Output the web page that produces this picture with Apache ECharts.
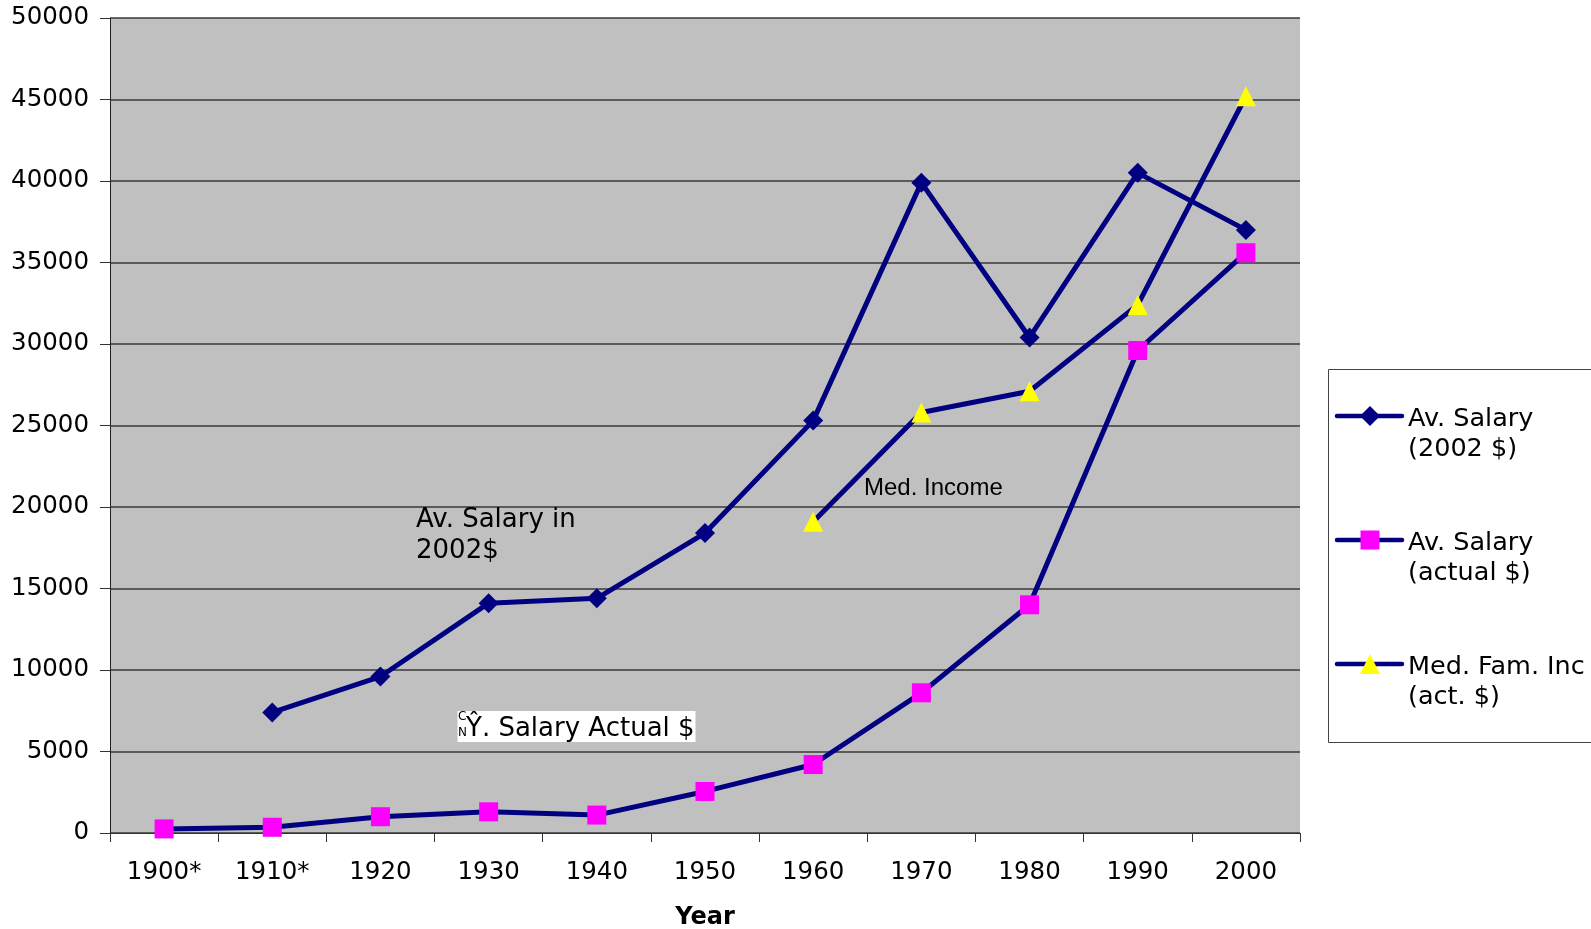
<!DOCTYPE html>
<html><head><meta charset="utf-8">
<script src="https://cdn.jsdelivr.net/npm/echarts@6/dist/echarts.min.js"></script>
<style>html,body{margin:0;padding:0;background:#fff}#c{width:1591px;height:929px}</style>
</head><body><div id="c"></div>
<script>
const categories = ['1900*','1910*','1920','1930','1940','1950','1960','1970','1980','1990','2000'];
const avSalary2002 = [null,7400,9600,14100,14400,18400,25300,39900,30400,40500,37000];
const avSalaryActual = [250,350,1000,1300,1100,2550,4200,8600,14000,29600,35600];
const medFamInc = [null,null,null,null,null,null,19100,25800,27100,32400,45200];
const seriesNames = ['Av. Salary (2002 $)','Av. Salary (actual $)','Med. Fam. Inc (act. $)'];
const legendLabels = [['Av. Salary','(2002 $)'],['Av. Salary','(actual $)'],['Med. Fam. Inc','(act. $)']];
const yMin = 0, yMax = 50000, yInterval = 5000;

const NAVY = '#000080';
const FONT = 'DejaVu Sans';
const markers = [
  {symbol:'diamond', size:20, color:NAVY},
  {symbol:'rect', size:19, color:'#FF00FF'},
  {symbol:'triangle', size:20, color:'#FFFF00'}
];
const dataSets = [avSalary2002, avSalaryActual, medFamInc];

const chart = echarts.init(document.getElementById('c'), null, {renderer:'canvas'});

function markerShape(i, cx, cy) {
  const m = markers[i], h = m.size/2;
  if (m.symbol === 'diamond') return {type:'polygon', shape:{points:[[cx,cy-h],[cx+h,cy],[cx,cy+h],[cx-h,cy]]}, style:{fill:m.color}};
  if (m.symbol === 'rect') return {type:'rect', shape:{x:cx-h,y:cy-h,width:m.size,height:m.size}, style:{fill:m.color}};
  return {type:'polygon', shape:{points:[[cx,cy-h],[cx+h,cy+h],[cx-h,cy+h]]}, style:{fill:m.color}};
}

const legendGraphics = [{type:'rect', shape:{x:1328.5,y:369.5,width:300,height:373}, style:{fill:'#fff', stroke:'#444', lineWidth:1}, z:10}];
legendLabels.forEach((lines, i) => {
  const cy = 416 + i*124;
  legendGraphics.push({type:'line', shape:{x1:1337,y1:cy,x2:1402,y2:cy}, style:{stroke:NAVY, lineWidth:4.5, lineCap:'round'}, z:11});
  const ms = markerShape(i, 1370, cy); ms.z = 12; legendGraphics.push(ms);
  legendGraphics.push({type:'text', x:1408, y:cy-11, z:12, style:{text:lines.join('\n'), font:'25.5px "DejaVu Sans"', lineHeight:29.5, fill:'#000', verticalAlign:'top'}});
});

const annotations = [
  {type:'text', x:416, y:505, style:{text:'Av. Salary in\n2002$', font:'26px "DejaVu Sans"', lineHeight:30.5, fill:'#000', verticalAlign:'top'}, z:5},
  {type:'text', x:864, y:476, style:{text:'Med. Income', font:'24px "Liberation Sans"', fill:'#000', verticalAlign:'top'}, z:5},
  {type:'rect', shape:{x:457.5,y:711,width:238,height:31}, style:{fill:'#fff'}, z:5},
  {type:'text', x:458, y:711, style:{text:'C', font:'12px "DejaVu Sans"', fill:'#000', verticalAlign:'top'}, z:6},
  {type:'text', x:458, y:727, style:{text:'N', font:'12px "DejaVu Sans"', fill:'#000', verticalAlign:'top'}, z:6},
  {type:'text', x:466, y:716, style:{text:'\u0176. Salary Actual $', font:'26px "DejaVu Sans"', fill:'#000', verticalAlign:'top'}, z:6}
];

chart.setOption({
  animation:false,
  backgroundColor:'#fff',
  grid:{left:110, top:18, right:291, bottom:96, show:true, backgroundColor:'#C0C0C0', borderWidth:0, containLabel:false, outerBoundsMode:'none'},
  xAxis:{
    type:'category', data:categories, boundaryGap:true,
    name:'Year', nameLocation:'middle', nameGap:73,
    nameTextStyle:{fontFamily:FONT, fontSize:24, fontWeight:'bold', color:'#000'},
    axisLine:{show:true, lineStyle:{color:'#333', width:1}},
    axisTick:{show:true, interval:0, length:9, lineStyle:{color:'#333'}},
    axisLabel:{interval:0, margin:27, fontFamily:FONT, fontSize:24.5, color:'#000'},
    splitLine:{show:false}
  },
  yAxis:{
    type:'value', min:yMin, max:yMax, interval:yInterval,
    axisLine:{show:true, lineStyle:{color:'#222', width:1}},
    axisTick:{show:true, length:10, lineStyle:{color:'#333'}},
    axisLabel:{margin:21, fontFamily:FONT, fontSize:24.5, color:'#000', formatter: v => String(v)},
    splitLine:{show:true, lineStyle:{color:'#3a3a3a', width:1.5}}
  },
  series: dataSets.map((d, i) => ({
    name: seriesNames[i], type:'line', data:d,
    symbol: markers[i].symbol, symbolSize: markers[i].size,
    showAllSymbol:true, connectNulls:false,
    lineStyle:{color:NAVY, width:5},
    itemStyle:{color:markers[i].color, borderWidth:0},
    z: 3
  })),
  graphic: annotations.concat(legendGraphics)
});
</script>
</body></html>
